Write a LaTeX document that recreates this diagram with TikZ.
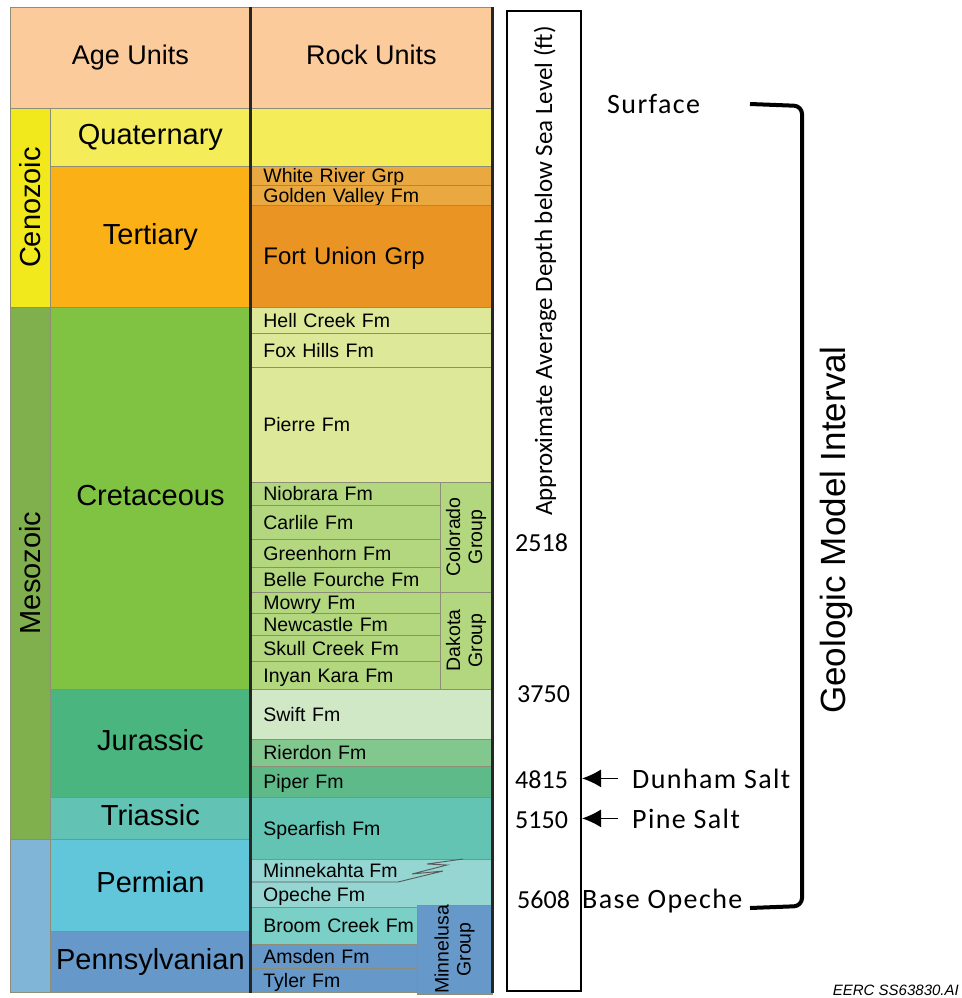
\documentclass[tikz,border=0pt]{standalone}
\usepackage{fontspec}
\setmainfont{Liberation Sans}
\newfontfamily\calfont[LetterSpace=5]{Carlito}
\newfontfamily\calplain{Carlito}
\usepackage{xcolor}
\usepackage{tikz}
\usetikzlibrary{arrows.meta, positioning}

\definecolor{hdrpeach}{HTML}{FCCB9B}
\definecolor{cenoyel}{HTML}{F2E91C}
\definecolor{quatyel}{HTML}{F4EC58}
\definecolor{tertorg}{HTML}{FBB016}
\definecolor{wrivorg}{HTML}{E9A940}
\definecolor{fuorg}{HTML}{EA9424}
\definecolor{mesogrn}{HTML}{80AF4E}
\definecolor{cretgrn}{HTML}{80C241}
\definecolor{hellgrn}{HTML}{DDE899}
\definecolor{colgrn}{HTML}{B2D77F}
\definecolor{jurgrn}{HTML}{4AB57E}
\definecolor{swiftgrn}{HTML}{D0E8C6}
\definecolor{rierdgrn}{HTML}{82C78E}
\definecolor{pipergrn}{HTML}{5FBA8A}
\definecolor{triasteal}{HTML}{62C3B4}
\definecolor{spearteal}{HTML}{64C4B4}
\definecolor{paleoblu}{HTML}{80B5D8}
\definecolor{permblu}{HTML}{62C6DB}
\definecolor{opechetl}{HTML}{95D6D2}
\definecolor{broomtl}{HTML}{7AD0C6}
\definecolor{pennblu}{HTML}{6699C9}
\definecolor{edgegray}{HTML}{8E8E78}

\begin{document}
\begin{tikzpicture}[
    x=1pt, y=-1pt,
    cell/.style={draw=edgegray, line width=0.8pt, inner sep=0pt, anchor=north west},
    header/.style={cell, fill=hdrpeach, minimum height=101, text height=19.5, text depth=6,
                   font=\fontsize{27}{32}\selectfont},
    period/.style={cell, minimum width=200, text height=21, text depth=6,
                   font=\fontsize{29}{34}\selectfont},
    era/.style={draw=edgegray, line width=0.8pt, inner sep=0pt, rotate=90,
                minimum height=40, font=\fontsize{29}{34}\selectfont},
    rock/.style={cell, minimum width=242, text width=216, inner xsep=13pt,
                 text height=14, text depth=0, align=left,
                 font=\fontsize{19.5}{22}\selectfont},
    grprock/.style={rock, minimum width=190, text width=164},
    minrock/.style={rock, minimum width=167, text width=141},
    group/.style={draw=edgegray, line width=0.8pt, inner sep=0pt, rotate=90,
                  align=center, font=\fontsize{19.5}{22}\selectfont},
    divider/.style={line width=3pt, black!85},
    depthnum/.style={anchor=base west, inner sep=0pt, font=\calplain\fontsize{26}{30}\selectfont},
    marker/.style={anchor=base west, inner sep=0pt, font=\calfont\fontsize{28}{32}\selectfont},
    ptr/.style={-{Latex[length=19pt, width=18pt]}, line width=1.5pt, shorten <=14pt},
    bracket/.style={line width=4pt, rounded corners=8pt}
]
    \useasboundingbox (0,0) rectangle (961,998);

    \node[header, minimum width=240] (agehdr)  at (10,7)  {Age Units};
    \node[header, minimum width=242] (rockhdr) at (250,7) {Rock Units};

    \node[era, fill=cenoyel, minimum width=199] (ceno)  at (30,207.5) {Cenozoic};
    \node[era, fill=mesogrn, minimum width=532] (meso)  at (30,573)   {Mesozoic};
    \node[era, fill=paleoblu, minimum width=153] (paleo) at (30,915.5) {};

    \node[period, fill=quatyel,   minimum height=58]  (quat)  at (50,108) {Quaternary};
    \node[period, fill=tertorg,   minimum height=141] (tert)  at (50,166) {Tertiary};
    \node[period, fill=cretgrn,   minimum height=382] (cret)  at (50,307) {Cretaceous};
    \node[period, fill=jurgrn,    minimum height=108] (jur)   at (50,689) {Jurassic};
    \node[period, fill=triasteal, minimum height=42]  (trias) at (50,797) {Triassic};
    \node[period, fill=permblu,   minimum height=92]  (perm)  at (50,839) {Permian};
    \node[period, fill=pennblu,   minimum height=61]  (penn)  at (50,931) {Pennsylvanian};

    \node[rock, fill=quatyel, minimum height=58] (quatrock) at (250,108) {};
    \node[rock, fill=wrivorg, minimum height=19] (wriver) at (250,166) {White River Grp};
    \node[rock, fill=wrivorg, minimum height=20] (gvalley) at (250,185) {Golden Valley Fm};
    \node[rock, fill=fuorg, minimum height=102, text height=17,
          font=\fontsize{24}{28}\selectfont] (funion) at (250,205) {Fort Union Grp};
    \node[rock, fill=hellgrn, minimum height=26]  (hcreek) at (250,307) {Hell Creek Fm};
    \node[rock, fill=hellgrn, minimum height=34]  (fhills) at (250,333) {Fox Hills Fm};
    \node[rock, fill=hellgrn, minimum height=115] (pierre) at (250,367) {Pierre Fm};
    \node[grprock, fill=colgrn, minimum height=23] (niob)  at (250,482) {Niobrara Fm};
    \node[grprock, fill=colgrn, minimum height=34] (carl)  at (250,505) {Carlile Fm};
    \node[grprock, fill=colgrn, minimum height=28] (green) at (250,539) {Greenhorn Fm};
    \node[grprock, fill=colgrn, minimum height=25] (belle) at (250,567) {Belle Fourche Fm};
    \node[grprock, fill=colgrn, minimum height=21] (mowry) at (250,592) {Mowry Fm};
    \node[grprock, fill=colgrn, minimum height=22] (newc)  at (250,613) {Newcastle Fm};
    \node[grprock, fill=colgrn, minimum height=26] (skull) at (250,635) {Skull Creek Fm};
    \node[grprock, fill=colgrn, minimum height=28] (inyan) at (250,661) {Inyan Kara Fm};
    \node[group, fill=colgrn, minimum width=110, minimum height=52] (colorado) at (466,537) {Colorado\\Group};
    \node[group, fill=colgrn, minimum width=97,  minimum height=52] (dakota)   at (466,640.5) {Dakota\\Group};
    \node[rock, fill=swiftgrn,  minimum height=50] (swift)  at (250,689) {Swift Fm};
    \node[rock, fill=rierdgrn,  minimum height=27] (rierd)  at (250,739) {Rierdon Fm};
    \node[rock, fill=pipergrn,  minimum height=31] (piper)  at (250,766) {Piper Fm};
    \node[rock, fill=spearteal, minimum height=62] (spear)  at (250,797) {Spearfish Fm};
    \node[rock, fill=opechetl,  minimum height=48] (minkope) at (250,859) {};
    \node[anchor=base west, inner sep=0pt, font=\fontsize{19.5}{22}\selectfont] (minktxt) at (263,877) {Minnekahta Fm};
    \node[anchor=base west, inner sep=0pt, font=\fontsize{19.5}{22}\selectfont] (opetxt)  at (263,901) {Opeche Fm};
    \draw[black!65, line width=0.9pt] (250,882) -- (398,882) -- (443,871) -- (412,874)
        -- (447,865) -- (427,864) -- (463,859);
    \node[minrock, fill=broomtl, minimum height=37] (broom)  at (250,907) {\mbox{Broom Creek Fm}};
    \node[minrock, fill=pennblu, minimum height=24] (amsden) at (250,944) {Amsden Fm};
    \node[minrock, fill=pennblu, minimum height=24] (tyler)  at (250,968) {Tyler Fm};
    \node[group, fill=pennblu, minimum width=85, minimum height=75] (minnel) at (454.5,949.5) {Minnelusa\\Group};

    \draw[divider] (agehdr.north east) -- (penn.south east);
    \draw[divider] (rockhdr.north east) -- (rockhdr.north east |- penn.south east);

    \node[draw, line width=2pt, minimum width=74, minimum height=980, inner sep=0pt] (depth) at (544,501) {};
    \node[rotate=90, inner sep=0pt, font=\calplain\fontsize{25}{30}\selectfont] (depthttl) at (545,271)
        {Approximate Average Depth below Sea Level (ft)};

    \node[depthnum] (d2518) at (515,551) {2518};
    \node[depthnum] (d3750) at (517,702) {3750};
    \node[depthnum] (d4815) at (515,788) {4815};
    \node[depthnum] (d5150) at (515,828) {5150};
    \node[depthnum] (d5608) at (517,908) {5608};

    \node[marker] (surface) at (607,113) {Surface};
    \node[marker] (dunham)  at (632,788) {Dunham Salt};
    \node[marker] (pine)    at (632,828) {Pine Salt};
    \node[marker] (bopeche) at (582,908) {Base Opeche};

    \draw[ptr] (dunham.west) -- (depth.east |- dunham.west);
    \draw[ptr] (pine.west) -- (depth.east |- pine.west);

    \coordinate (brtop) at (750,104);
    \coordinate (brbot) at (750,908);
    \draw[bracket] (brtop) -- (802,106) -- (802,906) -- (brbot);

    \node[rotate=90, inner sep=0pt, font=\fontsize{35}{40}\selectfont] (gmi) at (836,530) {Geologic Model Interval};

    \node[anchor=base east, inner sep=0pt, font=\itshape\fontsize{15}{18}\selectfont] (eerc) at (959,995) {EERC SS63830.AI};
\end{tikzpicture}
\end{document}
